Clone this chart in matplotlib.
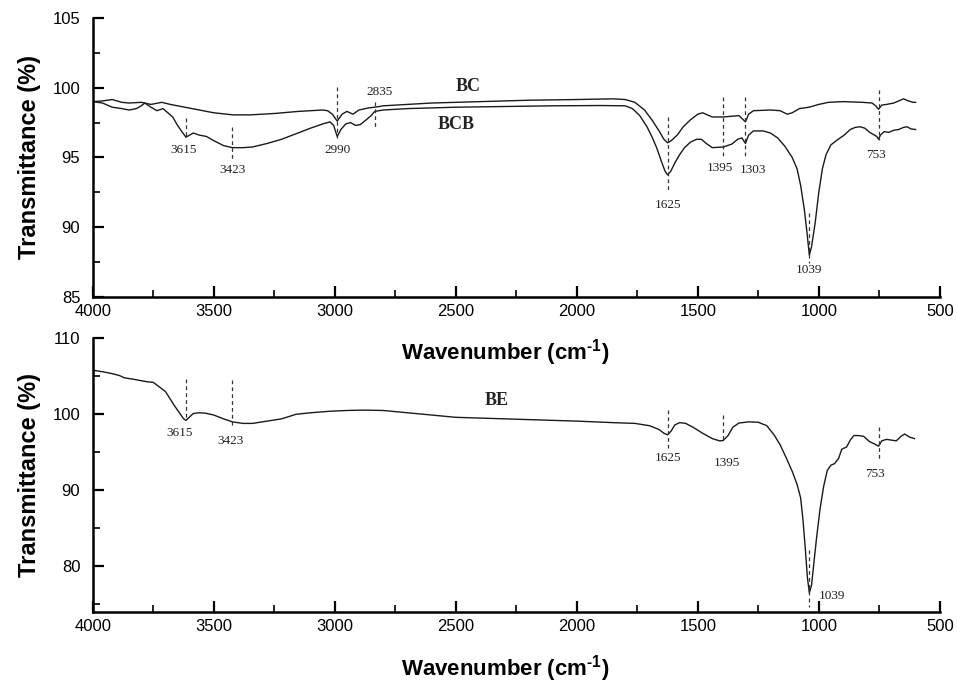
import matplotlib
matplotlib.use("Agg")
import matplotlib.pyplot as plt
from matplotlib.ticker import MultipleLocator

plt.rcParams['font.family'] = ['Liberation Sans', 'DejaVu Sans']
plt.rcParams['mathtext.fontset'] = 'custom'
plt.rcParams['mathtext.rm'] = 'Liberation Sans:bold'
plt.rcParams['mathtext.it'] = 'Liberation Sans:bold'
plt.rcParams['mathtext.bf'] = 'Liberation Sans:bold'

# ---- spectra (wavenumber in cm^-1, transmittance in %) ----
bc_wn = [4000, 3960, 3920, 3880, 3850, 3800, 3760, 3715, 3680, 3620, 3560, 3500,
         3420, 3350, 3250, 3150, 3050, 3030, 3010, 2990, 2970, 2950, 2925, 2900,
         2860, 2835, 2800, 2700, 2600, 2500, 2400, 2300, 2200, 2000, 1850, 1800,
         1760, 1720, 1690, 1660, 1640, 1625, 1610, 1585, 1560, 1530, 1500, 1480,
         1460, 1440, 1395, 1360, 1330, 1315, 1303, 1290, 1270, 1200, 1160, 1130,
         1110, 1080, 1040, 1000, 960, 900, 820, 780, 765, 753, 740, 720, 690, 670,
         650, 630, 610, 600]
bc_t = [99.0, 99.05, 99.15, 98.95, 98.9, 98.95, 98.8, 98.95, 98.8, 98.6, 98.4, 98.2,
        98.05, 98.05, 98.15, 98.3, 98.4, 98.35, 98.1, 97.6, 98.1, 98.3, 98.1, 98.4,
        98.55, 98.6, 98.7, 98.8, 98.9, 98.95, 99.0, 99.05, 99.1, 99.15, 99.2, 99.15,
        98.95, 98.4, 97.7, 96.9, 96.3, 96.05, 96.2, 96.6, 97.2, 97.7, 98.1, 98.2,
        98.05, 97.9, 97.9, 97.95, 98.0, 97.75, 97.55, 98.1, 98.35, 98.4, 98.35, 98.1,
        98.2, 98.5, 98.6, 98.8, 98.95, 99.0, 98.95, 98.9, 98.7, 98.45, 98.75, 98.8,
        98.9, 99.05, 99.2, 99.05, 98.95, 98.95]

bcb_wn = [4000, 3960, 3920, 3880, 3850, 3820, 3800, 3785, 3760, 3735, 3710, 3690,
          3670, 3650, 3630, 3615, 3600, 3585, 3560, 3530, 3500, 3460, 3423, 3380,
          3340, 3280, 3220, 3160, 3100, 3050, 3020, 3005, 2990, 2975, 2955, 2935,
          2915, 2895, 2870, 2850, 2835, 2800, 2700, 2500, 2300, 2100, 1900, 1800,
          1770, 1740, 1710, 1690, 1670, 1650, 1635, 1625, 1612, 1595, 1575, 1555,
          1530, 1505, 1485, 1465, 1440, 1395, 1360, 1335, 1318, 1303, 1290, 1270,
          1230, 1200, 1170, 1140, 1110, 1090, 1075, 1060, 1048, 1039, 1030, 1015,
          1000, 985, 970, 950, 920, 895, 870, 850, 830, 810, 790, 770, 760, 753,
          745, 730, 710, 690, 670, 650, 635, 620, 600]
bcb_t = [99.0, 98.9, 98.6, 98.5, 98.4, 98.5, 98.7, 98.9, 98.6, 98.35, 98.5, 98.2,
         97.9, 97.3, 96.8, 96.45, 96.6, 96.75, 96.6, 96.5, 96.2, 95.85, 95.7, 95.7,
         95.75, 96.0, 96.3, 96.7, 97.1, 97.4, 97.55, 97.3, 96.5, 97.0, 97.4, 97.5,
         97.3, 97.35, 97.7, 98.0, 98.3, 98.4, 98.5, 98.6, 98.65, 98.7, 98.72, 98.7,
         98.5, 98.0, 97.2, 96.5, 95.7, 94.7, 94.0, 93.75, 94.0, 94.6, 95.2, 95.7,
         96.1, 96.3, 96.3, 96.0, 95.7, 95.75, 95.95, 96.3, 96.4, 96.0, 96.6, 96.9,
         96.9, 96.75, 96.4, 95.8, 95.0, 94.2, 93.0, 91.3, 89.5, 88.0, 88.6, 90.3,
         92.5, 94.2, 95.2, 95.9, 96.3, 96.6, 97.0, 97.15, 97.2, 97.1, 96.8, 96.6, 96.5, 96.3,
         96.6, 96.85, 96.8, 96.95, 97.0, 97.15, 97.2, 97.05, 97.0]

be_wn = [4000, 3960, 3920, 3890, 3870, 3830, 3780, 3750, 3725, 3700, 3680, 3660,
         3640, 3625, 3615, 3605, 3585, 3560, 3535, 3500, 3460, 3423, 3380, 3340,
         3280, 3220, 3160, 3100, 3020, 2950, 2880, 2800, 2700, 2600, 2500, 2400,
         2300, 2200, 2000, 1850, 1760, 1700, 1660, 1640, 1625, 1610, 1595, 1575,
         1550, 1520, 1480, 1440, 1410, 1395, 1375, 1355, 1330, 1290, 1250, 1215,
         1185, 1160, 1135, 1110, 1090, 1075, 1065, 1055, 1047, 1039, 1030, 1020,
         1010, 995, 980, 965, 950, 935, 918, 905, 885, 870, 855, 835, 815, 790,
         770, 753, 740, 720, 700, 680, 660, 645, 625, 605]
be_t = [105.8, 105.6, 105.35, 105.1, 104.8, 104.6, 104.3, 104.2, 103.6, 103.0, 102.0, 101.0,
        100.1, 99.4, 99.2, 99.5, 100.1, 100.2, 100.15, 99.9, 99.4, 99.0, 98.8, 98.8,
        99.1, 99.4, 100.0, 100.2, 100.4, 100.5, 100.55, 100.5, 100.2, 99.9, 99.6, 99.5,
        99.4, 99.3, 99.1, 98.9, 98.8, 98.5, 98.0, 97.5, 97.3, 97.8, 98.6, 98.9,
        98.8, 98.3, 97.5, 96.8, 96.5, 96.55, 97.2, 98.3, 98.85, 99.0, 98.95, 98.5,
        97.3, 96.0, 94.3, 92.5, 90.8, 89.0, 86.0, 82.0, 78.5, 76.5, 77.5, 80.5,
        83.5, 87.5, 90.5, 92.6, 93.3, 93.5, 94.2, 95.4, 95.7, 96.6, 97.2, 97.2, 97.1, 96.4,
        96.1, 95.8, 96.5, 96.7, 96.6, 96.5, 97.1, 97.4, 97.0, 96.8]

# band assignments marked on each panel
top_bands = [3615, 3423, 2990, 2835, 1625, 1395, 1303, 1039, 753]
bottom_bands = [3615, 3423, 1625, 1395, 1039, 753]

x_ticks = [4000, 3500, 3000, 2500, 2000, 1500, 1000, 500]

fig = plt.figure(figsize=(9.57, 6.89), dpi=100)
ax1 = fig.add_axes([0.097, 0.569, 0.885, 0.405])
ax2 = fig.add_axes([0.097, 0.112, 0.885, 0.397])

serif = ['Liberation Serif', 'DejaVu Serif']
line_kw = dict(color='#1a1a1a', lw=1.0)
dash_kw = dict(color='#333333', lw=0.9, ls=(0, (3, 2.5)))
lab_kw = dict(family=serif, fontsize=9.5, ha='center', va='center', color='#222222')
name_kw = dict(family=serif, fontsize=13, fontweight='bold', ha='center', va='center',
               color='#222222')

ax1.plot(bc_wn, bc_t, **line_kw)
ax1.plot(bcb_wn, bcb_t, **line_kw)
ax2.plot(be_wn, be_t, **line_kw)

# top panel annotations: dashed-line span and label position
top_spans = {3615: (97.83, 96.4), 3423: (97.2, 94.8), 2990: (100.05, 96.4),
             2835: (99.0, 97.1), 1625: (97.9, 92.7), 1395: (99.35, 95.0),
             1303: (99.3, 95.0), 1039: (91.0, 87.4), 753: (99.85, 96.25)}
top_labels = {3615: (3625, 95.55), 3423: (3423, 94.1), 2990: (2990, 95.55),
              2835: (2815, 99.7), 1625: (1625, 91.6), 1395: (1410, 94.25),
              1303: (1270, 94.1), 1039: (1039, 86.9), 753: (763, 95.2)}
for wn in top_bands:
    y0, y1 = top_spans[wn]
    ax1.plot([wn, wn], [y0, y1], **dash_kw)
    lx, ly = top_labels[wn]
    ax1.text(lx, ly, str(wn), **lab_kw)
ax1.text(2450, 100.05, 'BC', **name_kw)
ax1.text(2500, 97.33, 'BCB', **name_kw)

# bottom panel annotations
bot_spans = {3615: (104.6, 99.2), 3423: (104.5, 98.3), 1625: (100.5, 95.5),
             1395: (99.9, 96.3), 1039: (82.1, 74.6), 753: (98.3, 93.9)}
bot_labels = {3615: (3640, 97.5), 3423: (3433, 96.45), 1625: (1625, 94.2),
              1395: (1380, 93.55), 753: (770, 92.2)}
for wn in bottom_bands:
    y0, y1 = bot_spans[wn]
    ax2.plot([wn, wn], [y0, y1], **dash_kw)
    if wn in bot_labels:
        lx, ly = bot_labels[wn]
        ax2.text(lx, ly, str(wn), **lab_kw)
ax2.text(1000, 76.1, '1039', **{**lab_kw, 'ha': 'left'})
ax2.text(2330, 101.8, 'BE', **name_kw)

for ax in (ax1, ax2):
    ax.set_xlim(4000, 500)
    ax.set_xticks(x_ticks)
    ax.xaxis.set_minor_locator(MultipleLocator(250))
    for s in ('top', 'right'):
        ax.spines[s].set_visible(False)
    for s in ('left', 'bottom'):
        ax.spines[s].set_linewidth(1.8)
    ax.tick_params(which='major', direction='in', length=8, width=1.6, labelsize=12, pad=9)
    ax.tick_params(which='minor', direction='in', length=5, width=1.2)
    ax.tick_params(axis='x', which='major', pad=5)
    ax.set_ylabel('Transmittance (%)', fontsize=17, fontweight='bold', labelpad=8)

ax1.set_ylim(85, 105)
ax1.set_yticks([85, 90, 95, 100, 105])
ax1.yaxis.set_minor_locator(MultipleLocator(2.5))
ax2.set_ylim(74, 110)
ax2.set_yticks([80, 90, 100, 110])
ax2.yaxis.set_minor_locator(MultipleLocator(5))

wl = 'Wavenumber (cm$^{\\mathregular{\u2010' + '1}}$)'
fig.text(0.528, 0.489, wl, fontsize=16, fontweight='bold', ha='center', va='center')
fig.text(0.528, 0.030, wl, fontsize=16, fontweight='bold', ha='center', va='center')

fig.savefig('out.png', dpi=100)
